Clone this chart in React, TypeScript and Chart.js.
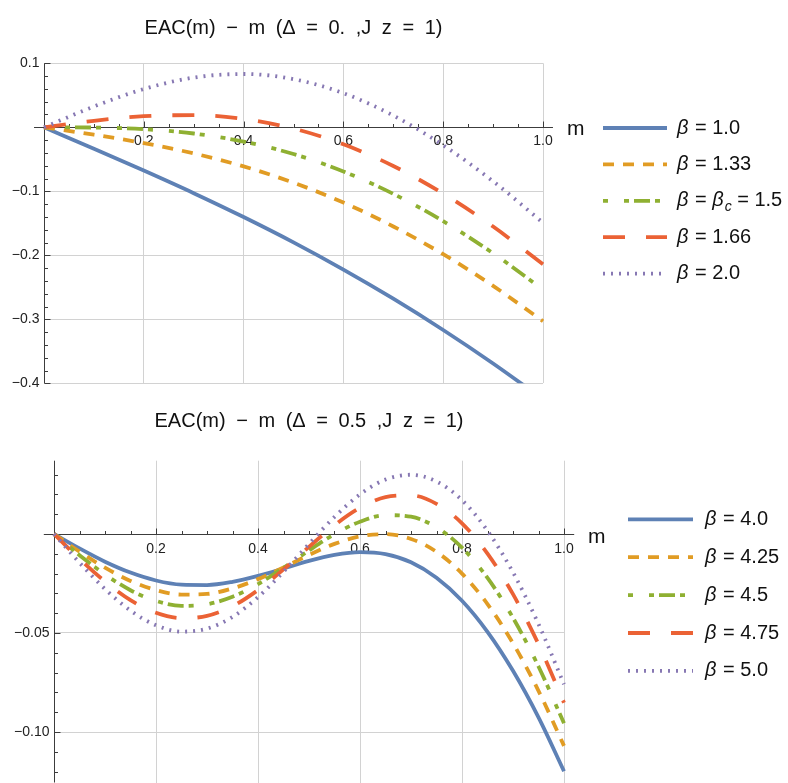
import { useEffect, useRef } from 'react';
import { Chart, registerables } from 'chart.js';

Chart.register(...registerables);

// ---------------- DATA ----------------
const topTitle = 'EAC(m) − m (Δ = 0. ,J z = 1)';
const bottomTitle = 'EAC(m) − m (Δ = 0.5 ,J z = 1)';
const axisLabel = 'm';

const mTop = [0, 0.1, 0.2, 0.3, 0.4, 0.5, 0.6, 0.7, 0.8, 0.9, 1.0];
const topLabels = ['β = 1.0', 'β = 1.33', 'β = β_c = 1.5', 'β = 1.66', 'β = 2.0'];
const topBeta100 = [0, -0.0334, -0.0676, -0.1029, -0.1402, -0.1798, -0.2223, -0.2678, -0.3167, -0.369, -0.4248];
const topBeta133 = [0, -0.0116, -0.0247, -0.0408, -0.0611, -0.0865, -0.1176, -0.1549, -0.1983, -0.2478, -0.303];
const topBeta150 = [0, -0.0004, -0.0029, -0.0097, -0.0223, -0.0418, -0.069, -0.104, -0.1467, -0.1968, -0.2535];
const topBeta166 = [0, 0.0102, 0.0174, 0.019, 0.013, -0.002, -0.0265, -0.0605, -0.1037, -0.1551, -0.214];
const topBeta200 = [0, 0.0325, 0.0598, 0.0777, 0.0833, 0.0752, 0.0533, 0.0184, -0.0281, -0.0844, -0.1491];

const mBottom = [0, 0.05, 0.1, 0.15, 0.2, 0.25, 0.3, 0.35, 0.4, 0.45, 0.5, 0.55, 0.6, 0.65, 0.7, 0.75, 0.8, 0.85, 0.9, 0.95, 1.0];
const bottomLabels = ['β = 4.0', 'β = 4.25', 'β = 4.5', 'β = 4.75', 'β = 5.0'];
const botBeta400 = [0, -0.0073, -0.014, -0.0195, -0.0235, -0.0256, -0.0258, -0.0242, -0.0212, -0.0175, -0.0136, -0.0106, -0.0092, -0.0102, -0.0143, -0.0221, -0.0337, -0.0494, -0.0691, -0.0926, -0.1198];
const botBeta425 = [0, -0.0089, -0.017, -0.0237, -0.0283, -0.0306, -0.0303, -0.0275, -0.0228, -0.0169, -0.0106, -0.005, -0.0012, -0.0001, -0.0025, -0.009, -0.02, -0.0354, -0.0552, -0.0792, -0.107];
const botBeta450 = [0, -0.0107, -0.0204, -0.0284, -0.0338, -0.0363, -0.0355, -0.0317, -0.0253, -0.0171, -0.0083, -0.0001, 0.0062, 0.0095, 0.0087, 0.0034, -0.0069, -0.0222, -0.0423, -0.0669, -0.0956];
const botBeta475 = [0, -0.0126, -0.024, -0.0334, -0.0398, -0.0425, -0.0414, -0.0365, -0.0283, -0.0179, -0.0065, 0.0044, 0.0132, 0.0186, 0.0195, 0.0152, 0.0054, -0.0099, -0.0304, -0.0557, -0.0852];
const botBeta500 = [0, -0.0145, -0.0278, -0.0387, -0.0461, -0.0493, -0.0478, -0.0419, -0.0319, -0.0191, -0.005, 0.0086, 0.02, 0.0275, 0.0299, 0.0265, 0.0171, 0.0016, -0.0194, -0.0455, -0.0759];

const xTickValues = [0.2, 0.4, 0.6, 0.8, 1.0];
const xTickLabels = ['0.2', '0.4', '0.6', '0.8', '1.0'];
const topYTickValues = [0.1, -0.1, -0.2, -0.3, -0.4];
const topYTickLabels = ['0.1', '−0.1', '−0.2', '−0.3', '−0.4'];
const botYTickValues = [-0.05, -0.1];
const botYTickLabels = ['−0.05', '−0.10'];

// ---------------- STYLE ----------------
const COLORS = ['#5E81B5', '#E19C24', '#8FB032', '#EB6235', '#8778B3'];
const DASHES: number[][] = [[], [11, 9], [5, 16, 5, 5, 16, 5], [22, 21], [2, 6]];
const LINE_W = 3.8;
const GRID = '#d2d2d2';
const AXIS = '#3c3c3c';
const FONT = '"Liberation Sans", Arial, sans-serif';

type Cfg = {
  padding: { left: number; right: number; top: number; bottom: number };
  yMin: number;
  yMax: number;
  yTicks: number[];
  yTickLabels: string[];
  yMinorStep: number;
  xMinorStep: number;
  xLabelDy: number;
  title: string;
  titleY: number;
  labels: string[];
  legendX1: number;
  legendX2: number;
  legendTextX: number;
  legendY0: number;
  legendDy: number;
  mX: number;
  mDy: number;
};

function drawRich(ctx: CanvasRenderingContext2D, label: string, x: number, y: number, size: number) {
  const parts: { t: string; kind: 'n' | 'i' | 's' }[] = [];
  for (let i = 0; i < label.length; i++) {
    const ch = label[i];
    if (ch === 'β') parts.push({ t: ch, kind: 'i' });
    else if (ch === '_') {
      parts.push({ t: label[i + 1], kind: 's' });
      i++;
    } else {
      const last = parts[parts.length - 1];
      if (last && last.kind === 'n') last.t += ch;
      else parts.push({ t: ch, kind: 'n' });
    }
  }
  let cx = x;
  ctx.textAlign = 'left';
  ctx.textBaseline = 'middle';
  for (const p of parts) {
    if (p.kind === 'n') ctx.font = `${size}px ${FONT}`;
    else if (p.kind === 'i') ctx.font = `italic ${size}px ${FONT}`;
    else ctx.font = `italic ${Math.round(size * 0.68)}px ${FONT}`;
    const dy = p.kind === 's' ? size * 0.3 : 0;
    ctx.fillText(p.t, cx, y + dy);
    cx += ctx.measureText(p.t).width + (p.kind === 'i' ? 1 : 0);
  }
}

function makePlugin(cfg: Cfg) {
  return {
    id: 'mathAxes',
    beforeDatasetsDraw(chart: any) {
      const ctx: CanvasRenderingContext2D = chart.ctx;
      const xs = chart.scales.x;
      const ys = chart.scales.y;
      const area = chart.chartArea;
      const x0 = Math.round(xs.getPixelForValue(0)) + 0.5;
      const y0 = Math.round(ys.getPixelForValue(0)) + 0.5;
      ctx.save();
      ctx.strokeStyle = AXIS;
      ctx.lineWidth = 1;
      // axes lines
      ctx.beginPath();
      ctx.moveTo(xs.getPixelForValue(-0.02), y0);
      ctx.lineTo(xs.getPixelForValue(1.02), y0);
      ctx.moveTo(x0, area.top);
      ctx.lineTo(x0, area.bottom);
      ctx.stroke();
      // x ticks
      ctx.beginPath();
      for (let v = cfg.xMinorStep; v <= 1.0001; v += cfg.xMinorStep) {
        const px = Math.round(xs.getPixelForValue(v)) + 0.5;
        const major = xTickValues.some((t) => Math.abs(t - v) < 1e-6);
        ctx.moveTo(px, y0);
        ctx.lineTo(px, y0 - (major ? 6 : 3.5));
      }
      // y ticks
      const start = Math.ceil((cfg.yMin - 1e-9) / cfg.yMinorStep);
      const end = Math.floor((cfg.yMax + 1e-9) / cfg.yMinorStep);
      for (let k = start; k <= end; k++) {
        if (k === 0) continue;
        const v = k * cfg.yMinorStep;
        const py = Math.round(ys.getPixelForValue(v)) + 0.5;
        const major = cfg.yTicks.some((t) => Math.abs(t - v) < 1e-6);
        ctx.moveTo(x0, py);
        ctx.lineTo(x0 + (major ? 6 : 3.5), py);
      }
      ctx.stroke();
      // tick labels
      ctx.fillStyle = '#222';
      ctx.font = `14px ${FONT}`;
      ctx.textAlign = 'center';
      ctx.textBaseline = 'middle';
      xTickValues.forEach((v, i) => {
        ctx.fillText(xTickLabels[i], xs.getPixelForValue(v), y0 + cfg.xLabelDy);
      });
      ctx.textAlign = 'right';
      cfg.yTicks.forEach((v, i) => {
        ctx.fillText(cfg.yTickLabels[i], x0 - 5, ys.getPixelForValue(v));
      });
      ctx.restore();
    },
    afterDraw(chart: any) {
      const ctx: CanvasRenderingContext2D = chart.ctx;
      const ys = chart.scales.y;
      const area = chart.chartArea;
      const y0 = ys.getPixelForValue(0);
      ctx.save();
      ctx.fillStyle = '#111';
      // title
      ctx.font = `20px ${FONT}`;
      (ctx as any).wordSpacing = '5px';
      ctx.textAlign = 'center';
      ctx.textBaseline = 'middle';
      ctx.fillText(cfg.title, (area.left + area.right) / 2, cfg.titleY);
      (ctx as any).wordSpacing = '0px';
      // axis label
      ctx.font = `21px ${FONT}`;
      ctx.textAlign = 'left';
      ctx.fillText(axisLabel, cfg.mX, y0 + cfg.mDy);
      // legend
      chart.data.datasets.forEach((ds: any, i: number) => {
        const y = cfg.legendY0 + i * cfg.legendDy;
        ctx.save();
        ctx.strokeStyle = ds.borderColor;
        ctx.lineWidth = ds.borderWidth;
        ctx.lineCap = 'butt';
        ctx.setLineDash(ds.borderDash || []);
        ctx.beginPath();
        ctx.moveTo(cfg.legendX1, y);
        ctx.lineTo(cfg.legendX2, y);
        ctx.stroke();
        ctx.restore();
        ctx.fillStyle = '#111';
        drawRich(ctx, cfg.labels[i], cfg.legendTextX, y, 20);
      });
      ctx.restore();
    },
  };
}

function makeConfig(m: number[], series: number[][], cfg: Cfg): any {
  return {
    type: 'line',
    data: {
      datasets: series.map((vals, i) => ({
        label: cfg.labels[i],
        data: m.map((x, j) => ({ x, y: vals[j] })),
        borderColor: COLORS[i],
        backgroundColor: COLORS[i],
        borderWidth: LINE_W,
        borderDash: DASHES[i],
        borderCapStyle: 'butt',
        borderJoinStyle: 'round',
        pointRadius: 0,
        pointHoverRadius: 0,
        fill: false,
        cubicInterpolationMode: 'monotone',
        order: series.length - i,
        clip: { left: 6, right: 6, top: 0, bottom: 0 },
      })),
    },
    options: {
      animation: false,
      responsive: false,
      events: [],
      layout: { padding: cfg.padding, autoPadding: false },
      plugins: {
        legend: { display: false },
        title: { display: false },
        tooltip: { enabled: false },
      },
      scales: {
        x: {
          type: 'linear',
          min: 0,
          max: 1,
          afterBuildTicks: (s: any) => {
            s.ticks = xTickValues.map((v) => ({ value: v }));
          },
          ticks: { display: false },
          grid: { color: GRID, lineWidth: 1, drawTicks: false },
          border: { display: false },
          afterFit: (s: any) => {
            s.height = 0;
          },
        },
        y: {
          type: 'linear',
          min: cfg.yMin,
          max: cfg.yMax,
          afterBuildTicks: (s: any) => {
            s.ticks = cfg.yTicks.map((v) => ({ value: v }));
          },
          ticks: { display: false },
          grid: { color: GRID, lineWidth: 1, drawTicks: false },
          border: { display: false },
          afterFit: (s: any) => {
            s.width = 0;
          },
        },
      },
    },
    plugins: [makePlugin(cfg)],
  };
}

const topCfg: Cfg = {
  padding: { left: 44, right: 245, top: 63.3, bottom: 11.7 },
  yMin: -0.4,
  yMax: 0.1,
  yTicks: topYTickValues,
  yTickLabels: topYTickLabels,
  yMinorStep: 0.02,
  xMinorStep: 0.05,
  xLabelDy: 14,
  title: topTitle,
  titleY: 28,
  labels: topLabels,
  legendX1: 603,
  legendX2: 667,
  legendTextX: 677,
  legendY0: 128,
  legendDy: 36.4,
  mX: 567,
  mDy: 2,
};

const bottomCfg: Cfg = {
  padding: { left: 54, right: 224, top: 65.7, bottom: 0.5 },
  yMin: -0.1255,
  yMax: 0.037,
  yTicks: botYTickValues,
  yTickLabels: botYTickLabels,
  yMinorStep: 0.01,
  xMinorStep: 0.05,
  xLabelDy: 15,
  title: bottomTitle,
  titleY: 26,
  labels: bottomLabels,
  legendX1: 628,
  legendX2: 693,
  legendTextX: 705,
  legendY0: 124.3,
  legendDy: 37.9,
  mX: 588,
  mDy: 3.5,
};

export default function App() {
  const r1 = useRef<HTMLCanvasElement>(null);
  const r2 = useRef<HTMLCanvasElement>(null);
  useEffect(() => {
    const c1 = new Chart(r1.current as HTMLCanvasElement, makeConfig(mTop, [topBeta100, topBeta133, topBeta150, topBeta166, topBeta200], topCfg));
    const c2 = new Chart(r2.current as HTMLCanvasElement, makeConfig(mBottom, [botBeta400, botBeta425, botBeta450, botBeta475, botBeta500], bottomCfg));
    return () => {
      c1.destroy();
      c2.destroy();
    };
  }, []);
  return (
    <div style={{ position: 'absolute', left: 0, top: 0, width: 788, height: 783, background: '#fff', overflow: 'hidden' }}>
      <canvas ref={r1} width={788} height={395} style={{ position: 'absolute', left: 0, top: 0, width: 788, height: 395 }} />
      <canvas ref={r2} width={788} height={388} style={{ position: 'absolute', left: 0, top: 395, width: 788, height: 388 }} />
    </div>
  );
}
